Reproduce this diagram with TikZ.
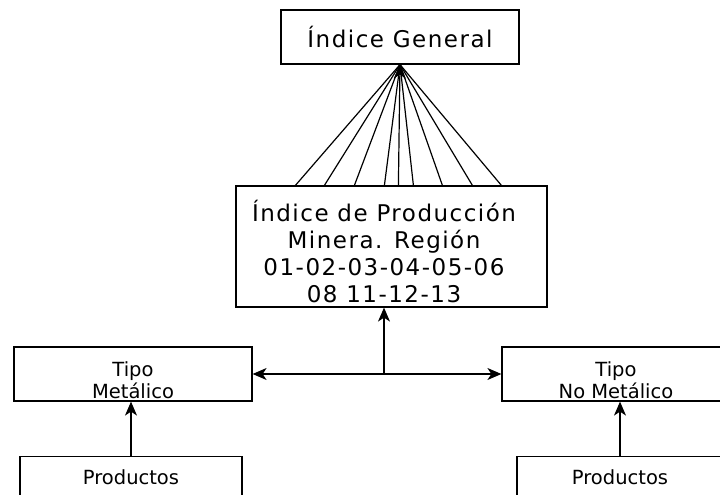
\documentclass[tikz,border=0pt]{standalone}
\usepackage{fontspec}
\setmainfont{DejaVu Sans}
\newfontfamily\bigfam{DejaVu Sans}[LetterSpace=6.5]
\usetikzlibrary{arrows.meta}
\begin{document}
\begin{tikzpicture}[x=1pt,y=-1pt,
 box/.style={draw=black, line width=1.2pt, inner sep=0pt},
 big/.style={font=\bigfam\fontsize{23}{27}\selectfont},
 small/.style={font=\fontsize{19.5}{22}\selectfont},
 link/.style={line width=1.2pt},
 arr/.style={link,-{Stealth[length=14pt,width=12pt,inset=4pt]}},
]
\useasboundingbox (0,0) rectangle (720,495);
\clip (0,0) rectangle (720,495);
\node[box,big,minimum width=238,minimum height=54] (gen) at (400,37) {Índice General};
\node[box,minimum width=311,minimum height=121] (mid) at (391.5,246.5) {};
\node[big,align=center] (midtext) at (384,251) {Índice de Producción\\Minera. Región\\01-02-03-04-05-06\\08 11-12-13};
\node[box,minimum width=238,minimum height=54] (tipoL) at (133,374) {};
\node[small,align=center] (tipoLt) at (133,380) {Tipo\\Metálico};
\node[box,minimum width=228,minimum height=54] (tipoR) at (616,374) {};
\node[small,align=center] (tipoRt) at (616,380) {Tipo\\No Metálico};
\node[box,small,anchor=north,minimum width=222,inner ysep=14pt,text height=14pt,text depth=60pt] (prodL) at (131,456) {Productos};
\node[box,small,anchor=north,minimum width=206,inner ysep=14pt,text height=14pt,text depth=60pt] (prodR) at (620,456) {Productos};
\foreach \dx in {60,89,119,149,178,207,237,266}
  \draw[link] ([xshift=\dx pt]mid.north west) -- (gen.south);
\draw[arr] ([xshift=163pt]mid.north west) -- (gen.south);
\coordinate (J) at (384,374);
\draw[arr] (J) -- (J |- mid.south);
\draw[arr] (J) -- (tipoL.east);
\draw[arr] (J) -- (tipoR.west);
\draw[arr] (prodL.north) -- (prodL.north |- tipoL.south);
\draw[arr] (prodR.north) -- (prodR.north |- tipoR.south);
\end{tikzpicture}
\end{document}
